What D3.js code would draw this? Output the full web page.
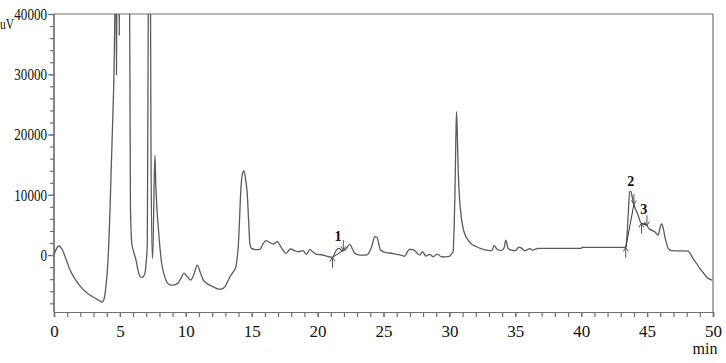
<!DOCTYPE html>
<html><head><meta charset="utf-8">
<script src="https://cdn.jsdelivr.net/npm/d3@7"></script>
<style>body{margin:0;background:#fff}svg{display:block}</style>
</head><body>
<svg id="chart" width="726" height="363"></svg>
<script>
// retention time (min)
const times = [0.0,0.15,0.38,0.6,0.9,1.2,1.6,2.0,2.5,3.0,3.4,3.65,3.8,3.95,4.05,4.15,4.25,4.35,4.45,4.55,4.62,4.7,4.74,4.78,4.92,4.95,4.98,5.3,5.7,5.76,5.8,5.9,6.05,6.22,6.4,6.55,6.7,6.9,7.0,7.08,7.15,7.2,7.3,7.36,7.46,7.52,7.6,7.66,7.72,7.8,7.91,8.05,8.17,8.35,8.54,8.75,8.92,9.2,9.43,9.65,9.86,10.05,10.37,10.6,10.87,11.1,11.33,11.6,11.83,12.2,12.46,12.75,12.97,13.15,13.35,13.6,13.8,13.92,13.98,14.08,14.16,14.3,14.41,14.52,14.66,14.76,14.86,14.99,15.3,15.62,15.85,16.08,16.35,16.63,16.94,17.2,17.6,17.95,18.25,18.53,18.9,19.16,19.41,19.65,19.92,20.3,20.68,21.13,21.3,21.45,21.65,21.85,22.1,22.45,22.65,22.83,23.2,23.7,23.95,24.1,24.34,24.5,24.65,24.77,25.2,25.6,25.99,26.3,26.62,26.8,27.0,27.2,27.38,27.6,27.76,27.96,28.21,28.5,28.77,29.07,29.4,29.7,30.03,30.2,30.28,30.35,30.41,30.48,30.54,30.6,30.66,30.75,30.84,31.04,31.2,31.42,31.7,32.06,32.4,32.81,33.2,33.4,33.6,33.95,34.15,34.28,34.46,34.7,34.96,35.3,35.5,35.72,35.9,36.1,36.3,36.5,36.73,40.0,40.05,43.38,43.43,43.55,43.68,43.76,43.94,44.06,44.31,44.57,44.82,45.2,45.58,45.84,45.95,46.09,46.22,46.35,46.47,46.6,46.84,47.5,48.1,48.3,48.48,48.75,48.99,49.25,49.5,49.75,49.95];
// detector signal (uV)
const signal = [0,900,1500,1000,-600,-2400,-4000,-5200,-6300,-7000,-7500,-7800,-7300,-5000,-2500,1500,7500,15000,22000,30000,40000,48000,29900,50000,52000,36500,52000,60000,55000,30000,8000,2000,500,-800,-2800,-3600,-3700,-3000,-1000,2000,40000,60000,55000,17000,-600,2000,12000,16500,12000,8000,4700,1000,-1400,-3200,-4400,-4900,-5000,-4900,-4600,-3800,-3000,-3400,-4150,-3300,-1660,-2900,-4150,-4700,-5000,-5400,-5650,-5600,-5250,-4500,-3600,-2800,-1940,0,1400,6000,10240,13500,14000,12800,10240,6000,1940,1100,900,940,1800,2380,2100,1830,2210,1400,280,1000,750,550,720,110,940,500,110,50,-170,-400,300,900,1100,700,900,1780,1000,280,0,0,600,1380,3040,2950,1800,830,390,300,110,0,-170,500,1000,900,720,200,0,550,-170,110,-280,170,-280,-300,-170,300,550,4000,9100,18000,23800,20000,14650,10000,7470,4430,3300,2490,1800,1380,1050,830,720,1550,1000,720,1200,2490,1100,800,720,1300,1100,720,900,1050,830,950,1100,1100,1270,1270,1940,6000,10500,10550,8850,8000,6640,5260,5200,4260,3870,3320,4200,5150,4500,3000,1940,1100,720,700,660,200,-550,-1400,-2210,-2900,-3600,-4000,-4150];

const xMajorTicks = [0,5,10,15,20,25,30,35,40,45,50];
const xMinorTicks = d3.range(0, 51, 1);
const yMajorTicks = [0,10000,20000,30000,40000];
const yMinorTicks = d3.range(-8000, 40001, 2000);
const yUnit = "uV";
const xUnit = "min";

// integrated peaks
const peakNames = ["1","2","3"];
const peakLabelT = [21.55, 43.76, 44.74];
const peakLabelV = [2300, 11500, 6800];
const peakStartT = [21.13, 43.38, 44.57];
const peakStartV = [-400, 1270, 5260];
const peakEndT = [21.95, 44.0, 44.99];
const peakEndV = [800, 8400, 4900];

const W = 726, H = 363;
const m = {left:54, top:14, right:13, bottom:51};
const svg = d3.select("#chart");
const x = d3.scaleLinear().domain([0,50]).range([m.left, W - m.right]);
const y = d3.scaleLinear().domain([-9450, 40000]).range([H - m.bottom, m.top]);

const axisColor = "#707070";
const font = "'Liberation Serif', 'Times New Roman', serif";
const squeeze = 0.77;

// frame: top & right
svg.append("line").attr("x1", x(0)).attr("x2", x(50)).attr("y1", y(40000)).attr("y2", y(40000))
  .attr("stroke", axisColor).attr("stroke-width", 1.2);
svg.append("line").attr("x1", x(50)).attr("x2", x(50)).attr("y1", y(40000)).attr("y2", y(-9450))
  .attr("stroke", axisColor).attr("stroke-width", 1.2);

// y axis
const gyMinor = svg.append("g").attr("transform", `translate(${m.left},0)`)
  .call(d3.axisLeft(y).tickValues(yMinorTicks).tickSize(4).tickFormat(""));
const gy = svg.append("g").attr("transform", `translate(${m.left},0)`)
  .call(d3.axisLeft(y).tickValues(yMajorTicks).tickSize(6).tickPadding(1).tickFormat(d3.format("d")));
[gyMinor, gy].forEach(g => {
  g.selectAll("path,line").attr("stroke", axisColor).attr("stroke-width", 1.2);
  g.select(".domain").attr("d", `M0,${y(-9450)}V${y(40000)}`);
});
gy.selectAll("text").attr("font-family", font).attr("font-size", 17).attr("fill", "#111")
  .attr("x", -7 / squeeze).attr("transform", `scale(${squeeze},1)`);

// x axis
const gxMinor = svg.append("g").attr("transform", `translate(0,${y(-9450)})`)
  .call(d3.axisBottom(x).tickValues(xMinorTicks).tickSize(5).tickFormat(""));
const gx = svg.append("g").attr("transform", `translate(0,${y(-9450)})`)
  .call(d3.axisBottom(x).tickValues(xMajorTicks).tickSize(5).tickPadding(8).tickFormat(d3.format("d")));
[gxMinor, gx].forEach(g => g.selectAll("path,line").attr("stroke", axisColor).attr("stroke-width", 1.2));
gx.selectAll("text").attr("font-family", font).attr("font-size", 17).attr("fill", "#111");

// unit labels
svg.append("text").attr("transform", `translate(0,29) scale(${squeeze},1)`).text(yUnit)
  .attr("font-family", font).attr("font-size", 15).attr("fill", "#111");
svg.append("text").attr("x", 705).attr("y", 354).attr("text-anchor", "middle").text(xUnit)
  .attr("font-family", font).attr("font-size", 16).attr("fill", "#111");

// clip
svg.append("clipPath").attr("id", "clip").append("rect")
  .attr("x", m.left).attr("y", m.top).attr("width", x(50) - m.left).attr("height", y(-9450) - m.top);

const data = times.map((t, i) => [t, signal[i]]);
svg.append("path").datum(data)
  .attr("clip-path", "url(#clip)")
  .attr("fill", "none").attr("stroke", "#5b5b5b").attr("stroke-width", 1.3)
  .attr("d", d3.line().x(d => x(d[0])).y(d => y(d[1])).curve(d3.curveMonotoneX));

// peak annotations
const annColor = "#555";
const arrowLen = 1700;
function arrow(t, v, dir) { // dir=+1 pointing up (tail below), -1 pointing down (tail above)
  const px = x(t), tip = y(v), tail = y(v - dir * arrowLen);
  svg.append("line").attr("x1", px).attr("x2", px).attr("y1", tail).attr("y2", tip)
    .attr("stroke", annColor).attr("stroke-width", 1);
  svg.append("path").attr("d", `M${px - 2.5},${tip + dir * 4}L${px},${tip}L${px + 2.5},${tip + dir * 4}`)
    .attr("fill", "none").attr("stroke", annColor).attr("stroke-width", 1);
}
peakNames.forEach((nm, i) => {
  svg.append("line")
    .attr("x1", x(peakStartT[i])).attr("y1", y(peakStartV[i]))
    .attr("x2", x(peakEndT[i])).attr("y2", y(peakEndV[i]))
    .attr("stroke", "#333").attr("stroke-width", 1);
  arrow(peakStartT[i], peakStartV[i], 1);
  arrow(peakEndT[i], peakEndV[i], -1);
  svg.append("text").attr("x", x(peakLabelT[i])).attr("y", y(peakLabelV[i]))
    .attr("text-anchor", "middle").text(nm)
    .attr("font-family", font).attr("font-size", 14).attr("font-weight", "bold").attr("fill", "#111");
});
</script>
</body></html>
